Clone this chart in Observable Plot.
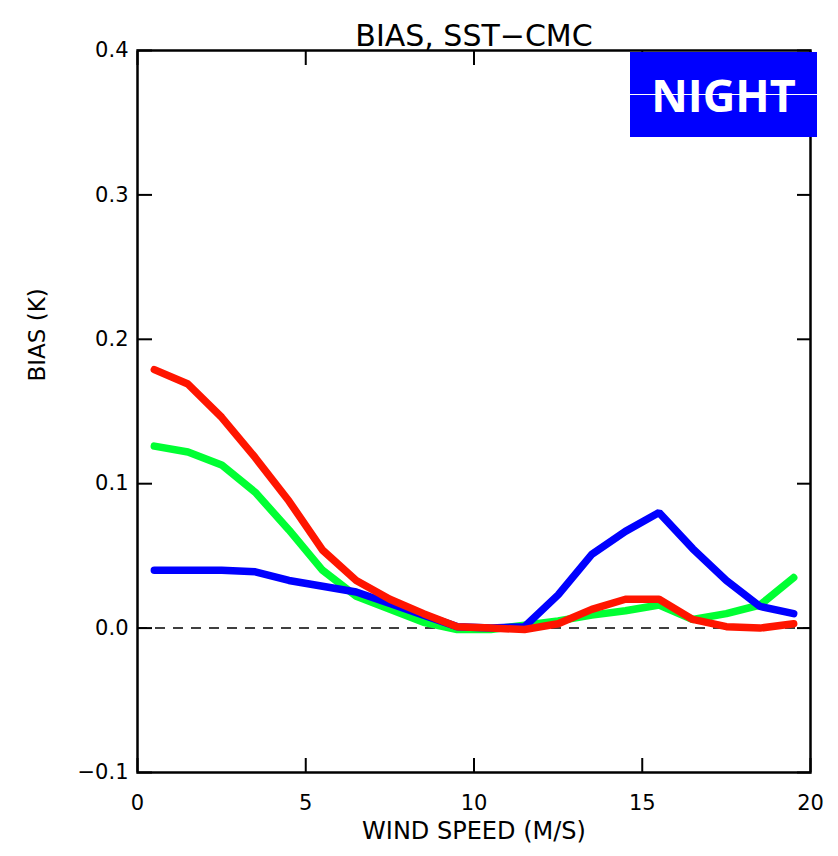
<!DOCTYPE html>
<html>
<head>
<meta charset="utf-8">
<script src="https://cdn.jsdelivr.net/npm/d3@7"></script>
<script src="https://cdn.jsdelivr.net/npm/@observablehq/plot@0.6"></script>
<style>
  html, body { margin: 0; padding: 0; background: #fff; }
  #wrap { position: relative; width: 838px; height: 856px; }
  #badge { position: absolute; left: 630px; top: 52px; width: 187px; height: 85px;
    background: #0000ff; color: #fff; font-family: "Open Sans", sans-serif; font-weight: 700;
    font-size: 45px; display: flex; align-items: center; justify-content: center; line-height: 1; }
  #badge .streak { position: absolute; left: 0; right: 0; top: 42px; height: 1px; background: #fff; }
</style>
</head>
<body>
<div id="wrap"></div>
<script>
const windSpeed = [0.5, 1.5, 2.5, 3.5, 4.5, 5.5, 6.5, 7.5, 8.5, 9.5, 10.5, 11.5, 12.5, 13.5, 14.5, 15.5, 16.5, 17.5, 18.5, 19.5];
const blueBias  = [0.040, 0.040, 0.040, 0.039, 0.033, 0.029, 0.025, 0.017, 0.009, 0.001, 0.000, 0.001, 0.023, 0.051, 0.067, 0.080, 0.055, 0.033, 0.015, 0.010];
const greenBias = [0.126, 0.122, 0.113, 0.094, 0.068, 0.040, 0.022, 0.013, 0.004, -0.001, -0.001, 0.002, 0.005, 0.009, 0.012, 0.016, 0.006, 0.010, 0.016, 0.035];
const redBias   = [0.179, 0.169, 0.146, 0.118, 0.088, 0.054, 0.033, 0.020, 0.010, 0.001, 0.000, -0.001, 0.003, 0.013, 0.020, 0.020, 0.006, 0.001, 0.000, 0.003];
const seriesNames  = ["S1", "S2", "S3"];
const seriesColors = ["#00ff33", "#0000ff", "#ff1500"];
const xTicks = [0, 5, 10, 15, 20];
const yTicks = [-0.1, 0.0, 0.1, 0.2, 0.3, 0.4];
const titleText = "BIAS, SST\u2212CMC";
const xLabel = "WIND SPEED (M/S)";
const yLabel = "BIAS (K)";
const badgeText = "NIGHT";

const seriesValues = [greenBias, blueBias, redBias];
const rows = seriesNames.flatMap((s, k) => windSpeed.map((w, i) => ({series: s, wind: w, bias: seriesValues[k][i]})));
const blank = () => "";

const plot = Plot.plot({
  width: 838,
  height: 856,
  marginLeft: 137,
  marginRight: 28,
  marginTop: 50,
  marginBottom: 84,
  style: {fontFamily: "DejaVu Sans, sans-serif", fontSize: "21px", color: "#000", background: "#fff"},
  x: {domain: [0, 20], ticks: xTicks},
  y: {domain: [-0.1, 0.4], ticks: yTicks},
  color: {type: "ordinal", domain: seriesNames, range: seriesColors},
  marks: [
    Plot.ruleY([0], {stroke: "#000", strokeWidth: 1.5, strokeDasharray: "10,8"}),
    ...seriesNames.map(s => Plot.line(rows.filter(d => d.series === s), {x: "wind", y: "bias", stroke: "series", strokeWidth: 7.5, strokeLinejoin: "miter"})),
    Plot.axisX(xTicks, {anchor: "bottom", tickSize: -14, tickPadding: 37, strokeWidth: 2, label: null, tickFormat: d3.format("d"), letterSpacing: "1.5px"}),
    Plot.axisX(xTicks, {anchor: "top", tickSize: -14, strokeWidth: 2, label: null, tickFormat: blank}),
    Plot.axisY(yTicks, {anchor: "left", tickSize: -15, tickPadding: 24, strokeWidth: 2, label: null, tickFormat: d3.format(".1f"), letterSpacing: "1.5px"}),
    Plot.axisY(yTicks, {anchor: "right", tickSize: -14, strokeWidth: 2, label: null, tickFormat: blank}),
    Plot.frame({stroke: "#000", strokeWidth: 2.5}),
    Plot.text([titleText], {frameAnchor: "top", dy: -26, fontSize: 30, fill: "#000"}),
    Plot.text([xLabel], {frameAnchor: "bottom", dy: 66, fontSize: 24, fill: "#000"}),
    Plot.text([yLabel], {frameAnchor: "left", dx: -100, dy: -30, rotate: -90, fontSize: 23, fill: "#000"})
  ]
});

const wrap = document.getElementById("wrap");
wrap.appendChild(plot);
const badge = document.createElement("div");
badge.id = "badge";
badge.textContent = badgeText;
const streak = document.createElement("div");
streak.className = "streak";
badge.appendChild(streak);
wrap.appendChild(badge);
</script>
</body>
</html>
